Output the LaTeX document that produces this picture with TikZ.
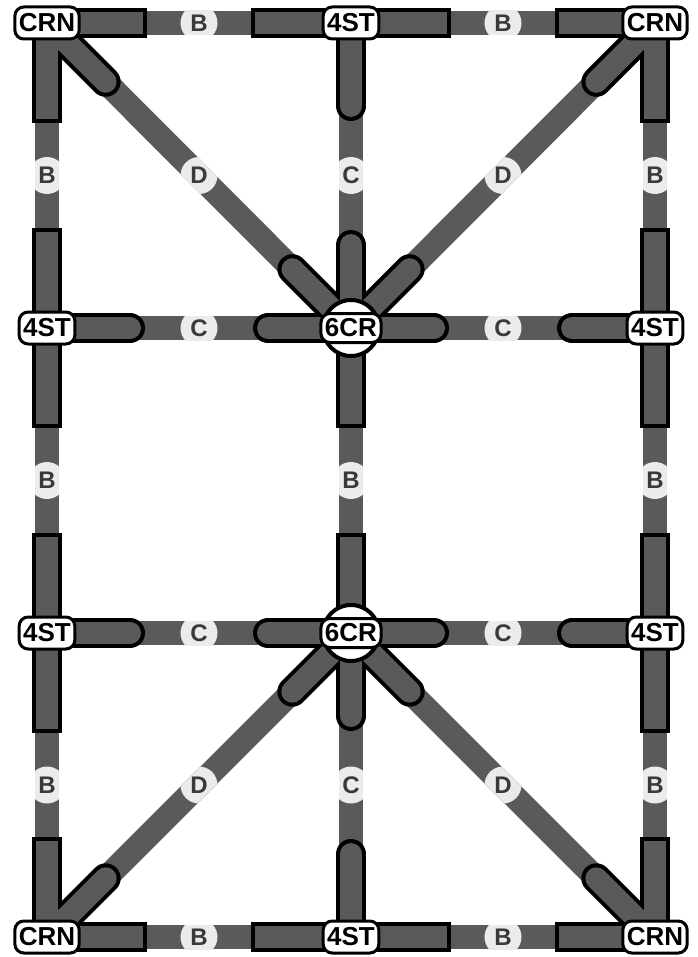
\documentclass[tikz,border=0pt]{standalone}
\usepackage{fontspec}
\setmainfont{Liberation Sans}
\usetikzlibrary{calc}
\definecolor{linegray}{HTML}{5A5A5A}
\definecolor{lblbg}{HTML}{EBEBEB}
\definecolor{lbltxt}{HTML}{3A3A3A}
\newcommand\edgelabel[3]{%
  \begin{scope}
    \clip ($(#1)!12pt!90:(#2)$) -- ($(#1)!12pt!-90:(#2)$) -- ($(#2)!12pt!90:(#1)$) -- ($(#2)!12pt!-90:(#1)$) -- cycle;
    \fill[lblbg] ($(#1)!0.5!(#2)$) circle (18.5pt);
  \end{scope}
  \node[edgetext] at ($(#1)!0.5!(#2)$) {#3};
}
\begin{document}
\begin{tikzpicture}[x=1pt,y=-1pt,
  mainline/.style={draw=linegray, line width=24pt},
  stubout/.style={draw=black, line width=30pt},
  stubin/.style={draw=linegray, line width=22pt},
  nodebox/.style={draw=black, fill=white, line width=3pt, rounded corners=9pt,
    font=\bfseries\fontsize{26}{26}\selectfont, inner xsep=4pt, inner ysep=0pt, minimum height=32pt},
  hubcircle/.style={draw=black, fill=white, line width=4pt, circle, minimum size=56pt, inner sep=0pt},
  edgetext/.style={font=\bfseries\fontsize{24}{24}\selectfont, text=lbltxt, inner sep=0pt}
]
\useasboundingbox (0,0) rectangle (697,957);
% positions
\coordinate (c00) at (47,23);  \coordinate (c01) at (351,23);  \coordinate (c02) at (655,23);
\coordinate (c10) at (47,328); \coordinate (c11) at (351,328); \coordinate (c12) at (655,328);
\coordinate (c20) at (47,633); \coordinate (c21) at (351,633); \coordinate (c22) at (655,633);
\coordinate (c30) at (47,937); \coordinate (c31) at (351,937); \coordinate (c32) at (655,937);
\def\edgesB{c00/c01,c01/c02,c30/c31,c31/c32,c00/c10,c10/c20,c20/c30,c02/c12,c12/c22,c22/c32,c11/c21}
\def\edgesC{c01/c11,c21/c31,c10/c11,c11/c12,c20/c21,c21/c22}
\def\edgesD{c00/c11,c02/c11,c21/c30,c21/c32}
% main lines
\foreach \a/\b in \edgesB {\draw[mainline] (\a) -- (\b);}
\foreach \a/\b in \edgesC {\draw[mainline] (\a) -- (\b);}
\foreach \a/\b in \edgesD {\draw[mainline] (\a) -- (\b);}
% edge labels
\foreach \a/\b in \edgesB {\edgelabel{\a}{\b}{B}}
\foreach \a/\b in \edgesC {\edgelabel{\a}{\b}{C}}
\foreach \a/\b in \edgesD {\edgelabel{\a}{\b}{D}}
% stub outlines
\foreach \a/\b in \edgesB {
  \draw[stubout, line cap=rect] (\a) -- ($(\a)!85pt!(\b)$);
  \draw[stubout, line cap=rect] (\b) -- ($(\b)!85pt!(\a)$);
}
\foreach \a/\b in \edgesC {
  \draw[stubout, line cap=round] (\a) -- ($(\a)!83pt!(\b)$);
  \draw[stubout, line cap=round] (\b) -- ($(\b)!83pt!(\a)$);
}
\foreach \a/\b in \edgesD {
  \draw[stubout, line cap=round] (\a) -- ($(\a)!83pt!(\b)$);
  \draw[stubout, line cap=round] (\b) -- ($(\b)!83pt!(\a)$);
}
% stub fills
\foreach \a/\b in \edgesB {
  \draw[stubin, line cap=rect] (\a) -- ($(\a)!85pt!(\b)$);
  \draw[stubin, line cap=rect] (\b) -- ($(\b)!85pt!(\a)$);
}
\foreach \a/\b in \edgesC {
  \draw[stubin, line cap=round] (\a) -- ($(\a)!83pt!(\b)$);
  \draw[stubin, line cap=round] (\b) -- ($(\b)!83pt!(\a)$);
}
\foreach \a/\b in \edgesD {
  \draw[stubin, line cap=round] (\a) -- ($(\a)!83pt!(\b)$);
  \draw[stubin, line cap=round] (\b) -- ($(\b)!83pt!(\a)$);
}
% hubs
\node[hubcircle] (hub1) at (c11) {};
\node[hubcircle] (hub2) at (c21) {};
% node labels
\node[nodebox] (n00) at (c00) {CRN};
\node[nodebox] (n01) at (c01) {4ST};
\node[nodebox] (n02) at (c02) {CRN};
\node[nodebox] (n10) at (c10) {4ST};
\node[nodebox, minimum height=29pt] (n11) at (c11) {6CR};
\node[nodebox] (n12) at (c12) {4ST};
\node[nodebox] (n20) at (c20) {4ST};
\node[nodebox, minimum height=29pt] (n21) at (c21) {6CR};
\node[nodebox] (n22) at (c22) {4ST};
\node[nodebox] (n30) at (c30) {CRN};
\node[nodebox] (n31) at (c31) {4ST};
\node[nodebox] (n32) at (c32) {CRN};
\end{tikzpicture}
\end{document}
